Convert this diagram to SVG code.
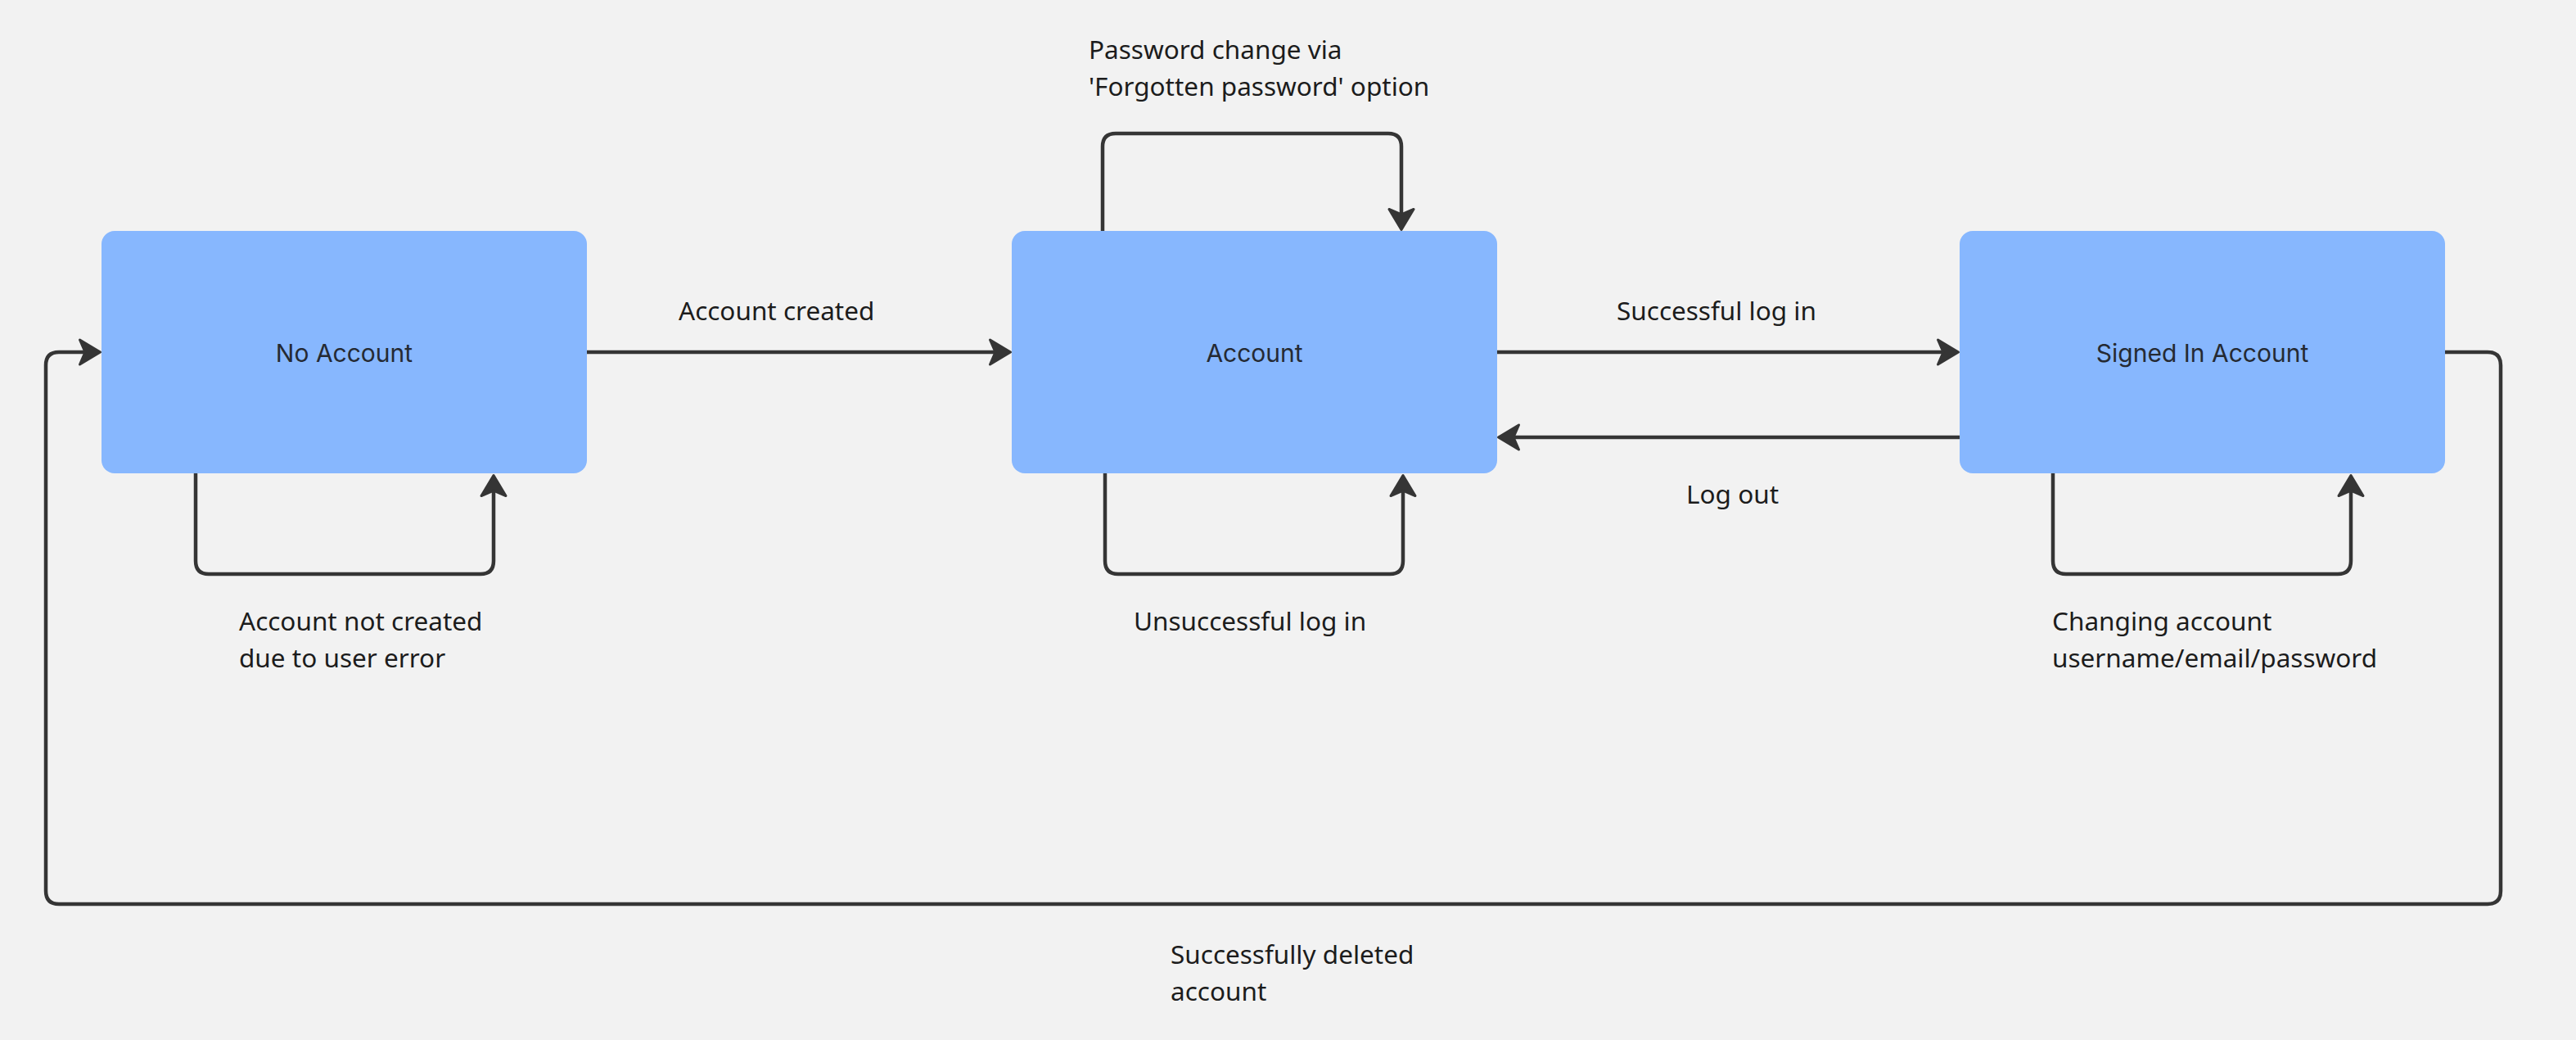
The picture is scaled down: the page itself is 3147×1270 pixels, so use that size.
<svg xmlns="http://www.w3.org/2000/svg" width="3147" height="1270" viewBox="0 0 3147 1270">
  <style>
    .node rect { fill: #87b7fe; }
    .node text { font-family: Inter, "Noto Sans", sans-serif; font-size: 30px; fill: #252a33; text-anchor: middle; }
    .conn path { fill: none; stroke: #353535; stroke-width: 4.5; stroke-linecap: butt; stroke-linejoin: round; }
    .lbl { font-family: "Noto Sans", "Open Sans", sans-serif; font-size: 31.5px; fill: #1c1c1c; }
  </style>
  <defs>
    <marker id="arr" viewBox="-32 -20 40 40" refX="-4" refY="0" markerWidth="40" markerHeight="40" markerUnits="userSpaceOnUse" orient="auto" overflow="visible">
      <path d="M-1.5,0 L-26.5,-15 L-20,0 L-26.5,15 Z" fill="#353535" stroke="#353535" stroke-width="3" stroke-linejoin="round"/>
    </marker>
  </defs>
  <rect x="0" y="0" width="3147" height="1270" fill="#f2f2f2"/>

  <g id="connectors" class="conn">
    <path id="e-created" d="M717,430 H1232" marker-end="url(#arr)"/>
    <path id="e-login" d="M1829,430 H2390" marker-end="url(#arr)"/>
    <path id="e-logout" d="M2394,534 H1833" marker-end="url(#arr)"/>
    <path id="e-noacc-loop" d="M239,578 V685 Q239,701 255,701 H587 Q603,701 603,685 V583" marker-end="url(#arr)"/>
    <path id="e-acc-bottom-loop" d="M1350,578 V685 Q1350,701 1366,701 H1698 Q1714,701 1714,685 V583" marker-end="url(#arr)"/>
    <path id="e-acc-top-loop" d="M1347,282 V179 Q1347,163 1363,163 H1696 Q1712,163 1712,179 V278" marker-end="url(#arr)"/>
    <path id="e-signed-loop" d="M2508,578 V685 Q2508,701 2524,701 H2856 Q2872,701 2872,685 V583" marker-end="url(#arr)"/>
    <path id="e-delete" d="M2987,430 H3039 Q3055,430 3055,446 V1088 Q3055,1104 3039,1104 H72 Q56,1104 56,1088 V446 Q56,430 72,430 H120" marker-end="url(#arr)"/>
  </g>

  <g id="labels">
    <text class="lbl" x="829" y="391">Account created</text>
    <text class="lbl" x="1975" y="391">Successful log in</text>
    <text class="lbl" x="2060" y="615">Log out</text>
    <text class="lbl" x="292" y="770">Account not created</text>
    <text class="lbl" x="292" y="815">due to user error</text>
    <text class="lbl" x="1385" y="770">Unsuccessful log in</text>
    <text class="lbl" x="1330" y="72">Password change via</text>
    <text class="lbl" x="1330" y="117">'Forgotten password' option</text>
    <text class="lbl" x="2507" y="770">Changing account</text>
    <text class="lbl" x="2507" y="815">username/email/password</text>
    <text class="lbl" x="1430" y="1177">Successfully deleted</text>
    <text class="lbl" x="1430" y="1222">account</text>
  </g>

  <g id="node-no-account" class="node">
    <rect x="124" y="282" width="593" height="296" rx="16" ry="16"/>
    <text x="420.5" y="442">No Account</text>
  </g>
  <g id="node-account" class="node">
    <rect x="1236" y="282" width="593" height="296" rx="16" ry="16"/>
    <text x="1532.5" y="442">Account</text>
  </g>
  <g id="node-signed-in" class="node">
    <rect x="2394" y="282" width="593" height="296" rx="16" ry="16"/>
    <text x="2690.5" y="442">Signed In Account</text>
  </g>
</svg>
